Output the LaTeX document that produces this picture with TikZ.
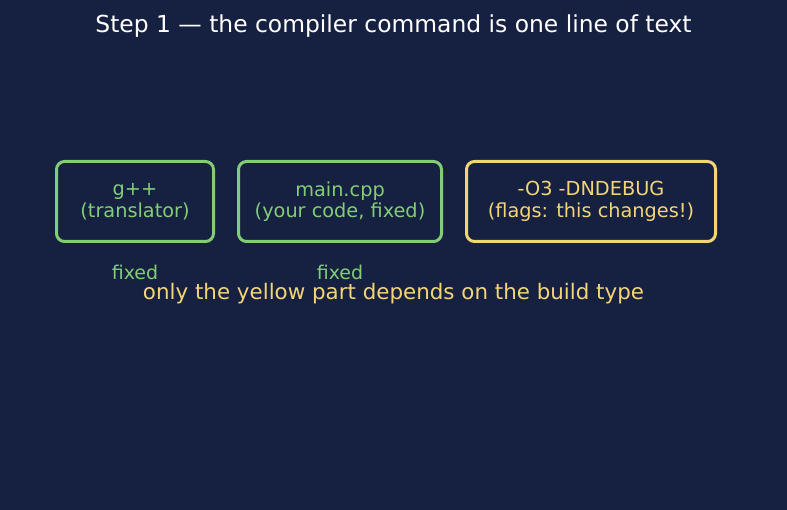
\documentclass[tikz,border=0pt]{standalone}
\usepackage{fontspec}
\setmainfont{DejaVu Sans}
\definecolor{bgnavy}{HTML}{162040}
\definecolor{fixgreen}{HTML}{82CE76}
\definecolor{flagyellow}{HTML}{F4D576}

\tikzset{
  cmdbox/.style={draw, rectangle, rounded corners=8pt, line width=3pt,
    minimum height=80pt, inner sep=0pt, align=center,
    font=\fontsize{19.3}{21.5}\selectfont},
  fixnote/.style={text=fixgreen, font=\fontsize{19}{21}\selectfont}
}

\begin{document}
\begin{tikzpicture}[x=1pt, y=-1pt]
        % backdrop
        \fill[bgnavy] (0,0) rectangle (787,510);
        \useasboundingbox (0,0) rectangle (787,510);

        \node[text=white, font=\fontsize{23.4}{25}\selectfont] (title) at (393.5,26) {Step 1 — the compiler command is one line of text};

        % parts of the command
        \node[cmdbox, draw=fixgreen, text=fixgreen, minimum width=157pt] (gpp) at (135,201.5) {g++\\(translator)};
        \node[cmdbox, draw=fixgreen, text=fixgreen, minimum width=203pt] (src) at (340,201.5) {main.cpp\\(your code, fixed)};
        \node[cmdbox, draw=flagyellow, text=flagyellow, minimum width=249pt] (flags) at (591,201.5) {-O3 -DNDEBUG\\(flags: this changes!)};

        \node[fixnote] (gppfix) at (135,272) {fixed};
        \node[fixnote] (srcfix) at (340,272) {fixed};
        \node[text=flagyellow, font=\fontsize{21.4}{23}\selectfont] (hint) at (393.5,294) {only the yellow part depends on the build type};
\end{tikzpicture}
\end{document}
